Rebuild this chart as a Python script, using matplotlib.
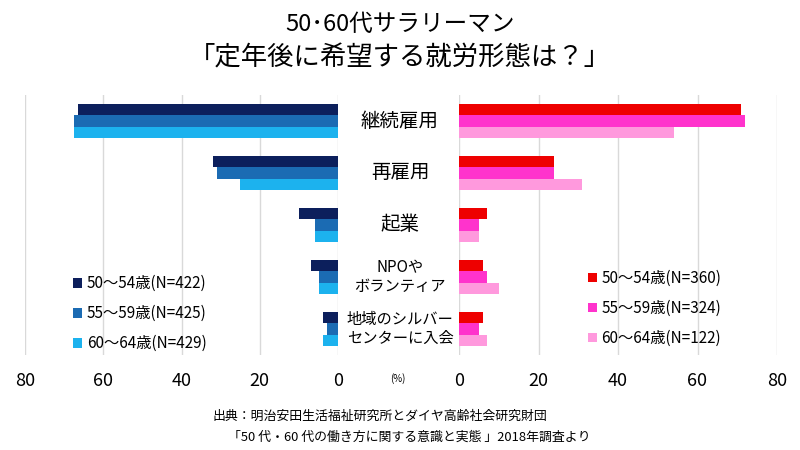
import matplotlib.pyplot as plt
import matplotlib.transforms as mtransforms
import numpy as np

plt.rcParams['font.family'] = ['Noto Sans CJK JP', 'DejaVu Sans']

categories = ['継続雇用', '再雇用', '起業', 'NPOや\nボランティア', '地域のシルバー\nセンターに入会']
cat_sizes = [14, 14, 14, 11, 11]

# left side (blue)
left_labels = ['50～54歳(N=422)', '55～59歳(N=425)', '60～64歳(N=429)']
left_50 = [66.4, 32, 10, 7, 3.9]
left_55 = [67.4, 31, 5.9, 4.9, 2.8]
left_60 = [67.4, 25, 5.9, 4.9, 3.9]
left_colors = ['#0c1f5c', '#1b6bb3', '#1cb2ee']

# right side (red/pink)
right_labels = ['50～54歳(N=360)', '55～59歳(N=324)', '60～64歳(N=122)']
right_50 = [71, 24, 7, 6, 6]
right_55 = [72, 24, 5, 7, 5]
right_60 = [54, 31, 5, 10, 7]
right_colors = ['#ee0000', '#ff33cc', '#ff99dd']

ticks = [0, 20, 40, 60, 80]

fig = plt.figure(figsize=(8, 4.5), dpi=100)
ax_l = fig.add_axes([25 / 800, 1 - 355 / 450, 313 / 800, 260 / 450])
ax_r = fig.add_axes([459 / 800, 1 - 355 / 450, 318 / 800, 260 / 450])

y = np.arange(len(categories))
h = 0.22
offsets = [-h, 0, h]

for vals, off, col, lab in zip([left_50, left_55, left_60], offsets, left_colors, left_labels):
    ax_l.barh(y + off, vals, height=h, color=col, label=lab, zorder=3)
for vals, off, col, lab in zip([right_50, right_55, right_60], offsets, right_colors, right_labels):
    ax_r.barh(y + off, vals, height=h, color=col, label=lab, zorder=3)

ax_l.set_xlim(80, 0)
ax_r.set_xlim(0, 80)
for ax in (ax_l, ax_r):
    ax.set_ylim(4.5, -0.5)
    ax.set_xticks(ticks)
    ax.set_yticks([])
    ax.grid(axis='x', color='#d9d9d9', linewidth=1, zorder=0)
    for s in ax.spines.values():
        s.set_visible(False)
    ax.tick_params(axis='x', length=0, pad=12, labelsize=13)

ax_l.legend(loc='upper left', bbox_to_anchor=(0.11, 0.36), frameon=False, fontsize=11,
            handlelength=0.6, handleheight=0.6, handletextpad=0.3, labelspacing=0.85)
ax_r.legend(loc='upper left', bbox_to_anchor=(0.362, 0.38), frameon=False, fontsize=11,
            handlelength=0.6, handleheight=0.6, handletextpad=0.3, labelspacing=0.85)

# category labels in the middle
trans = mtransforms.blended_transform_factory(fig.transFigure, ax_l.transData)
for i, (c, fs) in enumerate(zip(categories, cat_sizes)):
    fig.text(0.5, i, c, transform=trans, ha='center', va='center', fontsize=fs,
             linespacing=1.1)

fig.text(398 / 800, 1 - 379 / 450, '(%)', ha='center', va='center', fontsize=7)

fig.text(0.5, 1 - 24 / 450, '50･60代サラリーマン', ha='center', va='center', fontsize=17)
fig.text(0.5, 1 - 58 / 450, '「定年後に希望する就労形態は？」', ha='center', va='center', fontsize=19)

fig.text(213 / 800, 1 - 416 / 450, '出典：明治安田生活福祉研究所とダイヤ高齢社会研究財団',
         ha='left', va='center', fontsize=9.3)
fig.text(228 / 800, 1 - 437 / 450, '「50 代・60 代の働き方に関する意識と実態 」2018年調査より',
         ha='left', va='center', fontsize=9.3)

fig.savefig('out.png', dpi=100)
